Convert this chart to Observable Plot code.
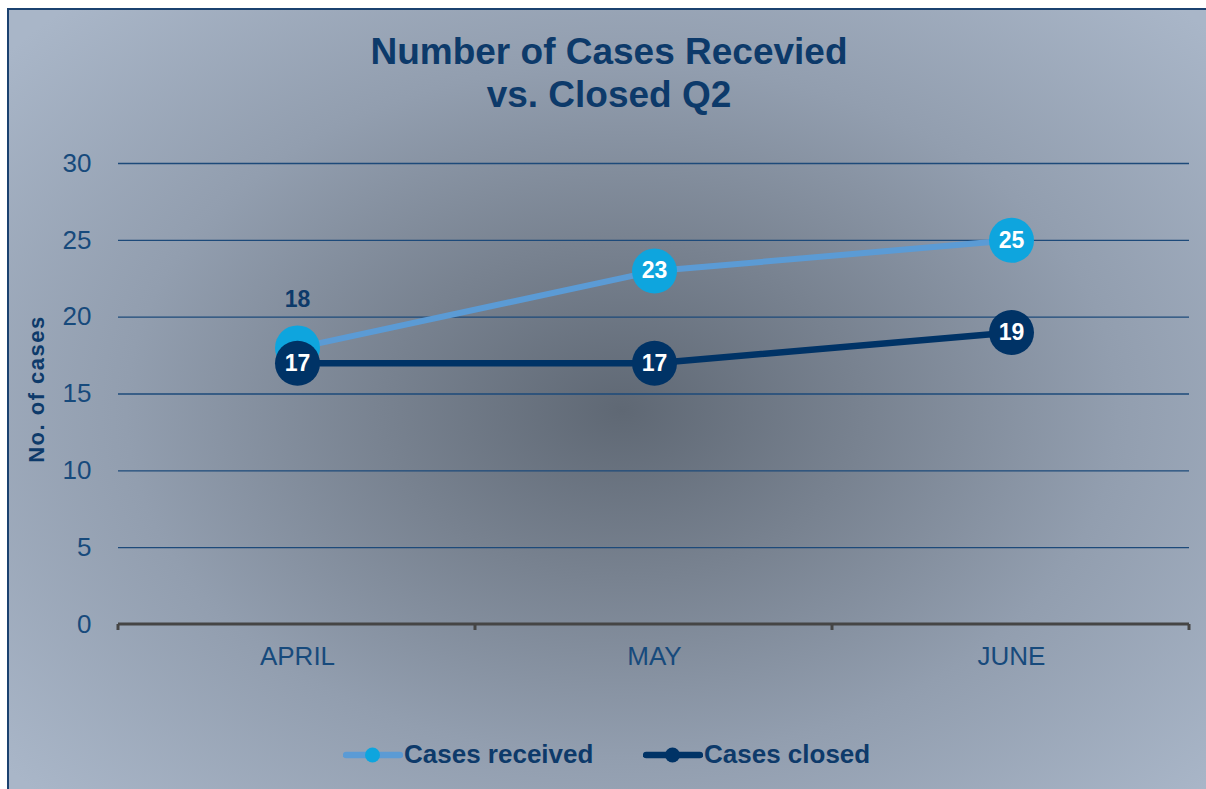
<!DOCTYPE html>
<html><head><meta charset="utf-8">
<script src="https://cdn.jsdelivr.net/npm/d3@7"></script>
<script src="https://cdn.jsdelivr.net/npm/@observablehq/plot@0.6"></script>
<style>
html,body{margin:0;padding:0;background:#fff;width:1206px;height:789px;overflow:hidden;font-family:"Liberation Sans",Arial,sans-serif;}
#card{position:absolute;left:7px;top:8px;width:1215px;height:800px;border:2px solid #1b4270;box-sizing:border-box;
  background:radial-gradient(ellipse 800px 560px at 613px 400px,#5f6874 0%,#788290 30%,#929eaf 62%,#a9b6c8 100%);}
#title{position:absolute;left:0;top:30px;width:1218px;text-align:center;font-weight:bold;font-size:37px;line-height:43px;color:#0d3a6a;}
#ylabel{position:absolute;left:37px;top:389px;transform:translate(-50%,-50%) rotate(-90deg);white-space:nowrap;font-weight:bold;font-size:22px;letter-spacing:1.5px;color:#0d3a6a;line-height:22px;}
#chart{position:absolute;left:0;top:140px;}
.lg{position:absolute;font-weight:bold;font-size:26px;line-height:26px;color:#0d3a6a;white-space:nowrap;}
.sw{position:absolute;}
</style></head><body>
<div id="card"></div>
<div id="title"></div>
<div id="ylabel"></div>
<div id="chart"></div>
<div id="legend"></div>
<script>
const titleLines = ["Number of Cases Recevied", "vs. Closed Q2"];
const yTitle = "No. of cases";
const months = ["APRIL", "MAY", "JUNE"];
const received = [18, 23, 25];
const closed = [17, 17, 19];
const yTicks = [0, 5, 10, 15, 20, 25, 30];
const seriesNames = ["Cases received", "Cases closed"];

const recColor = "#0ea5de", recLine = "#5b9bd5", cloColor = "#003366";

document.getElementById("title").innerHTML = titleLines.join("<br>");
document.getElementById("ylabel").textContent = yTitle;

const recData = months.map((m, i) => ({month: m, value: received[i]}));
const cloData = months.map((m, i) => ({month: m, value: closed[i]}));

const axisLine = (index, scales, values, dimensions) => {
  const {width, marginLeft, marginRight} = dimensions;
  const y0 = scales.y(0);
  const g = d3.create("svg:g");
  g.append("line").attr("x1", marginLeft).attr("x2", width - marginRight)
    .attr("y1", y0).attr("y2", y0).attr("stroke", "#454545").attr("stroke-width", 3);
  const step = (width - marginLeft - marginRight) / months.length;
  for (let i = 0; i <= months.length; i++) {
    const x = marginLeft + i * step;
    g.append("line").attr("x1", x).attr("x2", x).attr("y1", y0).attr("y2", y0 + 6)
      .attr("stroke", "#454545").attr("stroke-width", 3);
  }
  return g.node();
};

const txt = {x: "month", y: "value", text: d => String(d.value), fontWeight: "bold", fontSize: 23};

const chart = Plot.plot({
  width: 1206, height: 560,
  marginTop: 23, marginBottom: 76, marginLeft: 118, marginRight: 17,
  style: {background: "transparent", fontFamily: "Liberation Sans, Arial, sans-serif", color: "#174a7c", overflow: "visible"},
  x: {type: "point", domain: months, padding: 0.5, label: null},
  y: {domain: [0, 30], label: null},
  marks: [
    Plot.gridY({ticks: yTicks.filter(t => t > 0), stroke: "#1d4a7a", strokeOpacity: 1, strokeWidth: 1.3}),
    Plot.axisY({ticks: yTicks, tickSize: 0, tickPadding: 27, fontSize: 26, label: null}),
    Plot.axisX({tickSize: 0, tickPadding: 22, fontSize: 26, label: null}),
    axisLine,
    Plot.line(recData, {x: "month", y: "value", stroke: recLine, strokeWidth: 6}),
    Plot.dot(recData, {x: "month", y: "value", r: 22.5, fill: recColor}),
    Plot.text(recData.slice(1), {...txt, fill: "white"}),
    Plot.text(recData.slice(0, 1), {...txt, fill: "#0d3a6a", dy: -48}),
    Plot.line(cloData, {x: "month", y: "value", stroke: cloColor, strokeWidth: 6.5}),
    Plot.dot(cloData, {x: "month", y: "value", r: 22.5, fill: cloColor}),
    Plot.text(cloData, {...txt, fill: "white"})
  ]
});
document.getElementById("chart").appendChild(chart);

// legend
const legend = document.getElementById("legend");
const items = [
  {name: seriesNames[0], line: recLine, dot: recColor, sx: 343, tx: 404},
  {name: seriesNames[1], line: cloColor, dot: cloColor, sx: 643, tx: 704}
];
for (const it of items) {
  const sw = d3.create("svg").attr("class", "sw").attr("width", 60).attr("height", 18)
    .style("left", it.sx + "px").style("top", "746px");
  sw.append("line").attr("x1", 3).attr("x2", 57).attr("y1", 9).attr("y2", 9)
    .attr("stroke", it.line).attr("stroke-width", 6.5).attr("stroke-linecap", "round");
  sw.append("circle").attr("cx", 29.5).attr("cy", 9).attr("r", 7.5).attr("fill", it.dot);
  legend.appendChild(sw.node());
  const t = document.createElement("div");
  t.className = "lg"; t.style.left = it.tx + "px"; t.style.top = "741px";
  t.textContent = it.name;
  legend.appendChild(t);
}
</script>
</body></html>
